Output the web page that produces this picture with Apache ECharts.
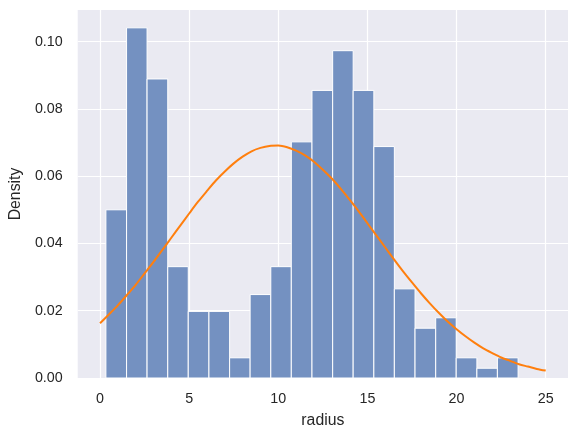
<!DOCTYPE html>
<html>
<head>
<meta charset="utf-8">
<script src="https://cdn.jsdelivr.net/npm/echarts@6/dist/echarts.min.js"></script>
<style>
html,body{margin:0;padding:0;background:#fff;}
#chart{width:579px;height:437px;}
</style>
</head>
<body>
<div id="chart"></div>
<script>
// Histogram bin edges (radius) and densities
const binEdges = [0.33, 1.49, 2.64, 3.80, 4.95, 6.11, 7.27, 8.42, 9.58, 10.73, 11.89, 13.05, 14.20, 15.36, 16.51, 17.67, 18.83, 19.98, 21.14, 22.29, 23.45];
const densities = [0.0500, 0.1041, 0.0889, 0.0331, 0.0198, 0.0198, 0.0060, 0.0248, 0.0331, 0.0702, 0.0855, 0.0973, 0.0855, 0.0688, 0.0265, 0.0148, 0.0179, 0.0060, 0.0029, 0.0060];
// Orange curve points
const curveX = [0, 0.5, 1, 1.5, 2, 2.5, 3, 3.5, 4, 4.5, 5, 5.5, 6, 6.5, 7, 7.5, 8, 8.5, 9, 9.5, 10, 10.5, 11, 11.5, 12, 12.5, 13, 13.5, 14, 14.5, 15, 15.5, 16, 16.5, 17, 17.5, 18, 18.5, 19, 19.5, 20, 20.5, 21, 21.5, 22, 22.5, 23, 23.5, 24, 24.5, 25];
const curveY = [0.0163, 0.0189, 0.0216, 0.0246, 0.0277, 0.0311, 0.0345, 0.0381, 0.0417, 0.0453, 0.0489, 0.0524, 0.0556, 0.0587, 0.0614, 0.0638, 0.0658, 0.0674, 0.0684, 0.0690, 0.0691, 0.0686, 0.0676, 0.0662, 0.0643, 0.0619, 0.0593, 0.0563, 0.0530, 0.0496, 0.0460, 0.0424, 0.0388, 0.0352, 0.0317, 0.0284, 0.0252, 0.0222, 0.0194, 0.0168, 0.0145, 0.0124, 0.0105, 0.0088, 0.0074, 0.0061, 0.0051, 0.0041, 0.0034, 0.0027, 0.0022];
const xTicks = [0, 5, 10, 15, 20, 25];
const yTicks = [0, 0.02, 0.04, 0.06, 0.08, 0.10];

const textColor = '#262626';
const fontFamily = '"Liberation Sans", Arial, sans-serif';

const histData = densities.map((d, i) => [binEdges[i], binEdges[i + 1], d]);
const curveData = curveX.map((x, i) => [x, curveY[i]]);

const chart = echarts.init(document.getElementById('chart'), null, {renderer: 'canvas'});
chart.setOption({
  animation: false,
  backgroundColor: '#ffffff',
  grid: {left: 75, right: 11, top: 10, bottom: 59, show: true, backgroundColor: '#EAEAF2', borderWidth: 0},
  xAxis: {
    type: 'value', min: -1.25, max: 26.25,
    name: 'radius', nameLocation: 'middle', nameGap: 35,
    nameTextStyle: {color: textColor, fontSize: 15.8, fontFamily: fontFamily},
    axisLine: {show: false}, axisTick: {show: false},
    splitLine: {show: false},
    axisLabel: {customValues: xTicks, color: textColor, fontSize: 14.3, fontFamily: fontFamily, margin: 14}
  },
  yAxis: {
    type: 'value', min: 0, max: 0.1094,
    name: 'Density', nameLocation: 'middle', nameGap: 52,
    nameTextStyle: {color: textColor, fontSize: 15.8, fontFamily: fontFamily},
    axisLine: {show: false}, axisTick: {show: false},
    splitLine: {show: false},
    axisLabel: {customValues: yTicks, color: textColor, fontSize: 14.3, fontFamily: fontFamily, margin: 15,
      formatter: v => v.toFixed(2)}
  },
  series: [
    {
      type: 'line', data: [], z: 1, silent: true,
      markLine: {
        z: 1,
        silent: true, symbol: 'none', animation: false,
        label: {show: false},
        lineStyle: {color: '#ffffff', width: 1.2, type: 'solid'},
        data: xTicks.map(v => ({xAxis: v})).concat(yTicks.map(v => ({yAxis: v})))
      }
    },
    {
      type: 'custom', z: 10,
      data: histData,
      encode: {x: [0, 1], y: 2},
      renderItem: function (params, api) {
        const p0 = api.coord([api.value(0), api.value(2)]);
        const p1 = api.coord([api.value(1), 0]);
        return {
          type: 'rect',
          shape: {x: p0[0], y: p0[1], width: p1[0] - p0[0], height: p1[1] - p0[1]},
          style: {fill: '#7491C1', stroke: '#ffffff', lineWidth: 1}
        };
      }
    },
    {
      type: 'line', z: 11, data: curveData, smooth: 0.3, showSymbol: false,
      lineStyle: {color: '#ff7f0e', width: 2}
    }
  ]
});
</script>
</body>
</html>
